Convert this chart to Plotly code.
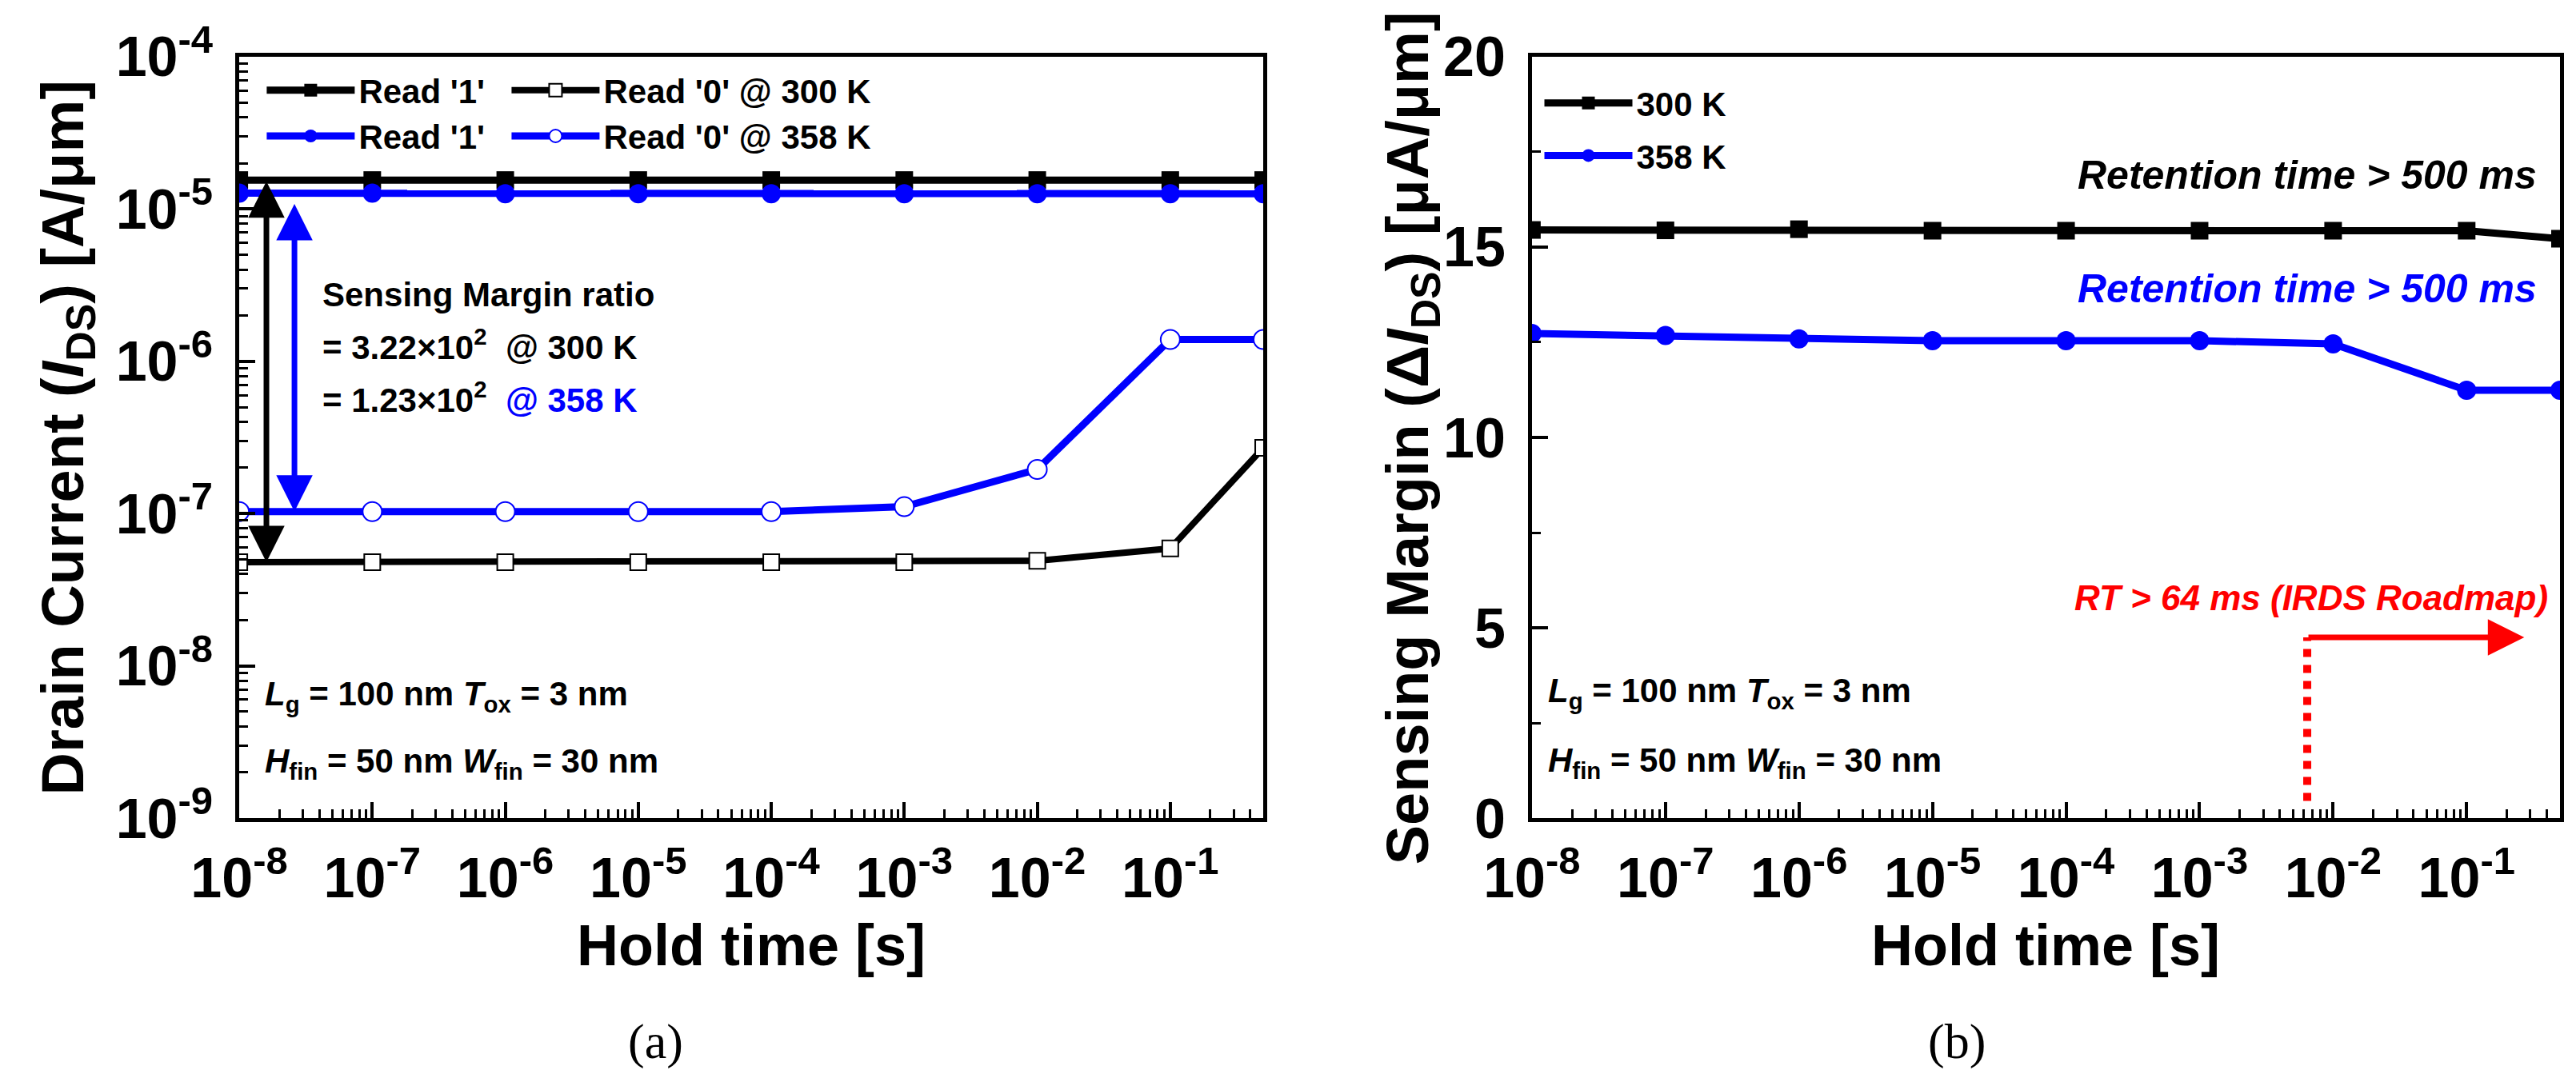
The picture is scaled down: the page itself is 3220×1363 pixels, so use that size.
import numpy as np
import plotly.graph_objects as go

# ---- data ----
hold_time = [1e-8, 1e-7, 1e-6, 1e-5, 1e-4, 1e-3, 1e-2, 1e-1, 0.5]

read1_300 = [1.55e-5, 1.55e-5, 1.55e-5, 1.55e-5, 1.55e-5, 1.55e-5, 1.55e-5, 1.55e-5, 1.55e-5]
read0_300 = [4.8e-8, 4.8e-8, 4.8e-8, 4.8e-8, 4.8e-8, 4.8e-8, 4.9e-8, 5.9e-8, 2.7e-7]
read1_358 = [1.27e-5, 1.27e-5, 1.26e-5, 1.26e-5, 1.26e-5, 1.26e-5, 1.26e-5, 1.26e-5, 1.26e-5]
read0_358 = [1.03e-7, 1.03e-7, 1.03e-7, 1.03e-7, 1.03e-7, 1.11e-7, 1.95e-7, 1.39e-6, 1.39e-6]

margin_300 = [15.45, 15.44, 15.47, 15.43, 15.43, 15.43, 15.43, 15.43, 15.22]
margin_358 = [12.73, 12.68, 12.59, 12.54, 12.54, 12.54, 12.46, 11.24, 11.24]

x_ticks = [1e-8, 1e-7, 1e-6, 1e-5, 1e-4, 1e-3, 1e-2, 1e-1]
x_ticktext = ["10<sup>-8</sup>", "10<sup>-7</sup>", "10<sup>-6</sup>", "10<sup>-5</sup>",
              "10<sup>-4</sup>", "10<sup>-3</sup>", "10<sup>-2</sup>", "10<sup>-1</sup>"]
y1_ticks = [1e-9, 1e-8, 1e-7, 1e-6, 1e-5, 1e-4]
y1_ticktext = ["10<sup>-9</sup>", "10<sup>-8</sup>", "10<sup>-7</sup>", "10<sup>-6</sup>",
               "10<sup>-5</sup>", "10<sup>-4</sup>"]
y2_ticks = [0, 5, 10, 15, 20]

# annotation anchors
arrow_x_300 = 1.6e-8
arrow_x_358 = 2.6e-8
arrow_top_358 = 1.1e-5
rt_start = 6.4e-3      # dotted line position
rt_end = 0.27          # arrow head
rt_level = 4.75
rt_bottom = 0.45

FONT = "Liberation Sans, Arial, sans-serif"
SERIF = "Liberation Serif, Times New Roman, serif"
BLUE = "#0000ff"
RED = "#ff0000"
PAD = "\u00a0\u00a0"   # widens the first legend column

fig = go.Figure()

# ---- (a) drain current ----
fig.add_trace(go.Scatter(x=hold_time, y=read1_300, name="Read '1'" + PAD, mode="lines+markers",
                         line=dict(color="black", width=9),
                         marker=dict(symbol="square", size=22, color="black"),
                         legend="legend", xaxis="x", yaxis="y"))
fig.add_trace(go.Scatter(x=hold_time, y=read0_300, name="Read '0' @ 300 K", mode="lines+markers",
                         line=dict(color="black", width=8),
                         marker=dict(symbol="square", size=20, color="white",
                                     line=dict(color="black", width=2)),
                         legend="legend", xaxis="x", yaxis="y"))
fig.add_trace(go.Scatter(x=hold_time, y=read1_358, name="Read '1'" + PAD, mode="lines+markers",
                         line=dict(color=BLUE, width=9),
                         marker=dict(symbol="circle", size=24, color=BLUE),
                         legend="legend2", xaxis="x", yaxis="y"))
fig.add_trace(go.Scatter(x=hold_time, y=read0_358, name="Read '0' @ 358 K", mode="lines+markers",
                         line=dict(color=BLUE, width=9),
                         marker=dict(symbol="circle", size=24, color="white",
                                     line=dict(color=BLUE, width=2)),
                         legend="legend2", xaxis="x", yaxis="y"))

# ---- (b) sensing margin ----
fig.add_trace(go.Scatter(x=hold_time, y=margin_300, name="300 K", mode="lines+markers",
                         line=dict(color="black", width=9), legendgroup="k300",
                         marker=dict(symbol="square", size=22, color="black"),
                         legend="legend3", xaxis="x2", yaxis="y2"))
fig.add_trace(go.Scatter(x=hold_time, y=margin_358, name="358 K", mode="lines+markers",
                         line=dict(color=BLUE, width=9), legendgroup="k358",
                         marker=dict(symbol="circle", size=24, color=BLUE),
                         legend="legend3", xaxis="x2", yaxis="y2"))
fig.add_trace(go.Scatter(x=[rt_start, rt_start], y=[rt_bottom, rt_level], mode="lines",
                         line=dict(color=RED, width=10, dash="dot"), showlegend=False,
                         xaxis="x2", yaxis="y2"))

tickfont = dict(family=FONT, size=70, color="black", weight="bold")
axis_common = dict(showline=True, linewidth=5, linecolor="black", mirror=True,
                   ticks="inside", ticklen=20, tickwidth=4, tickcolor="black",
                   showgrid=False, zeroline=False, automargin=False, tickfont=tickfont)
minor_log = dict(ticks="inside", ticklen=11, tickwidth=3, tickcolor="black",
                 dtick="D1", showgrid=False)
minor_lin = dict(ticks="inside", ticklen=11, tickwidth=3, tickcolor="black",
                 dtick=2.5, showgrid=False)
# tick-only copies for the top and right frame edges
shadow = dict(ticks="inside", ticklen=20, tickwidth=4, tickcolor="black",
              showticklabels=False, showgrid=False, zeroline=False, showline=False,
              automargin=False)

xrange = [np.log10(hold_time[0]), np.log10(hold_time[-1])]
dom_x1 = [0.0904, 0.4879]
dom_x2 = [0.5922, 0.9913]
dom_y = [0.2553, 0.9538]

legend_font = dict(family=FONT, size=42, color="black", weight="bold")

fig.update_layout(
    width=3220, height=1363,
    margin=dict(l=0, r=0, t=0, b=0, autoexpand=False),
    paper_bgcolor="white", plot_bgcolor="white",
    xaxis=dict(domain=dom_x1, type="log", range=xrange, anchor="y",
               tickvals=x_ticks, ticktext=x_ticktext, minor=minor_log,
               ticklabelstandoff=10, **axis_common),
    yaxis=dict(domain=dom_y, type="log", range=[-9, -4], anchor="x",
               tickvals=y1_ticks, ticktext=y1_ticktext, minor=minor_log,
               ticklabelstandoff=14, **axis_common),
    xaxis2=dict(domain=dom_x2, type="log", range=xrange, anchor="y2",
                tickvals=x_ticks, ticktext=x_ticktext, minor=minor_log,
                ticklabelstandoff=10, **axis_common),
    yaxis2=dict(domain=dom_y, range=[0, 20], anchor="x2",
                tickvals=y2_ticks, minor=minor_lin,
                ticklabelstandoff=14, **axis_common),
    xaxis3=dict(overlaying="x", side="top", anchor="y", type="log", range=xrange,
                tickvals=x_ticks, minor=minor_log, **shadow),
    yaxis3=dict(overlaying="y", side="right", anchor="x", type="log", range=[-9, -4],
                tickvals=y1_ticks, minor=minor_log, **shadow),
    xaxis4=dict(overlaying="x2", side="top", anchor="y2", type="log", range=xrange,
                tickvals=x_ticks, minor=minor_log, **shadow),
    yaxis4=dict(overlaying="y2", side="right", anchor="x2", range=[0, 20],
                tickvals=y2_ticks, minor=minor_lin, **shadow),
    legend=dict(x=0.0995, y=0.923, xanchor="left", yanchor="middle", orientation="h",
                itemwidth=110, bgcolor="rgba(0,0,0,0)", font=legend_font),
    legend2=dict(x=0.0995, y=0.881, xanchor="left", yanchor="middle", orientation="h",
                 itemwidth=110, bgcolor="rgba(0,0,0,0)", font=legend_font),
    legend3=dict(x=0.5955, y=0.887, xanchor="left", yanchor="middle",
                 itemwidth=110, bgcolor="rgba(0,0,0,0)", tracegroupgap=8,
                 font=legend_font),
)

bold = dict(family=FONT, size=42, color="black", weight="bold")
ann = []

# axis titles and panel captions
ann.append(dict(text="Drain Current (<i>I</i><sub>DS</sub>) [A/μm]", textangle=-90,
                xref="paper", yref="paper", x=0.0235, y=0.604, xanchor="center",
                yanchor="middle", showarrow=False,
                font=dict(family=FONT, size=74, color="black", weight="bold")))
ann.append(dict(text="Sensing Margin (Δ<i>I</i><sub>DS</sub>) [μA/μm]", textangle=-90,
                xref="paper", yref="paper", x=0.5455, y=0.604, xanchor="center",
                yanchor="middle", showarrow=False,
                font=dict(family=FONT, size=74, color="black", weight="bold")))
for xc in [sum(dom_x1) / 2, sum(dom_x2) / 2]:
    ann.append(dict(text="Hold time [s]", xref="paper", yref="paper", x=xc, y=0.139,
                    xanchor="center", yanchor="middle", showarrow=False,
                    font=dict(family=FONT, size=72, color="black", weight="bold")))
ann.append(dict(text="(a)", xref="paper", yref="paper", x=0.252, y=0.05,
                xanchor="center", yanchor="middle", showarrow=False,
                font=dict(family=SERIF, size=62, color="black")))
ann.append(dict(text="(b)", xref="paper", yref="paper", x=0.757, y=0.05,
                xanchor="center", yanchor="middle", showarrow=False,
                font=dict(family=SERIF, size=62, color="black")))

# (a) sensing-margin text
ann.append(dict(text="Sensing Margin ratio", xref="x domain", yref="y", x=0.0797, y=-5.56,
                xanchor="left", yanchor="middle", showarrow=False, font=bold))
ann.append(dict(text="= 3.22×10<sup>2</sup>  @ 300 K", xref="x domain", yref="y",
                x=0.0797, y=-5.89, xanchor="left", yanchor="middle", showarrow=False,
                font=bold))
ann.append(dict(text="= 1.23×10<sup>2</sup>  <span style='color:#0000ff'>@ 358 K</span>",
                xref="x domain", yref="y", x=0.0797, y=-6.24, xanchor="left",
                yanchor="middle", showarrow=False, font=bold))

# device parameters
params1 = "<i>L</i><sub>g</sub> = 100 nm <i>T</i><sub>ox</sub> = 3 nm"
params2 = "<i>H</i><sub>fin</sub> = 50 nm <i>W</i><sub>fin</sub> = 30 nm"
ann.append(dict(text=params1, xref="x domain", yref="y", x=0.023, y=-8.2,
                xanchor="left", yanchor="middle", showarrow=False, font=bold))
ann.append(dict(text=params2, xref="x domain", yref="y", x=0.023, y=-8.64,
                xanchor="left", yanchor="middle", showarrow=False, font=bold))
ann.append(dict(text=params1, xref="x2 domain", yref="y2", x=0.014, y=3.28,
                xanchor="left", yanchor="middle", showarrow=False, font=bold))
ann.append(dict(text=params2, xref="x2 domain", yref="y2", x=0.014, y=1.47,
                xanchor="left", yanchor="middle", showarrow=False, font=bold))

# double arrows in (a)
ann.append(dict(x=np.log10(arrow_x_300), y=np.log10(read0_300[0]),
                ax=np.log10(arrow_x_300), ay=np.log10(read1_300[0]),
                xref="x", yref="y", axref="x", ayref="y", text="", showarrow=True,
                arrowside="end+start", arrowhead=2, arrowsize=1.3, arrowwidth=7,
                arrowcolor="black", standoff=0, startstandoff=0))
ann.append(dict(x=np.log10(arrow_x_358), y=np.log10(read0_358[0]),
                ax=np.log10(arrow_x_358), ay=np.log10(arrow_top_358),
                xref="x", yref="y", axref="x", ayref="y", text="", showarrow=True,
                arrowside="end+start", arrowhead=2, arrowsize=1.3, arrowwidth=7,
                arrowcolor=BLUE, standoff=0, startstandoff=0))

# (b) retention labels
ann.append(dict(text="<i>Retention time > 500 ms</i>", xref="x2 domain", yref="y2",
                x=0.979, y=16.9, xanchor="right", yanchor="middle", showarrow=False,
                font=dict(family=FONT, size=50, color="black", weight="bold")))
ann.append(dict(text="<i>Retention time > 500 ms</i>", xref="x2 domain", yref="y2",
                x=0.979, y=13.9, xanchor="right", yanchor="middle", showarrow=False,
                font=dict(family=FONT, size=50, color=BLUE, weight="bold")))
ann.append(dict(text="<i>RT > 64 ms (IRDS Roadmap)</i>", xref="x2 domain", yref="y2",
                x=0.99, y=5.78, xanchor="right", yanchor="middle", showarrow=False,
                font=dict(family=FONT, size=44, color=RED, weight="bold")))
ann.append(dict(x=np.log10(rt_end), y=rt_level, ax=np.log10(rt_start), ay=rt_level,
                xref="x2", yref="y2", axref="x2", ayref="y2", text="", showarrow=True,
                arrowhead=2, arrowsize=1.3, arrowwidth=7, arrowcolor=RED,
                standoff=0, startstandoff=0))

fig.update_layout(annotations=ann)

fig.write_html("out.html")
